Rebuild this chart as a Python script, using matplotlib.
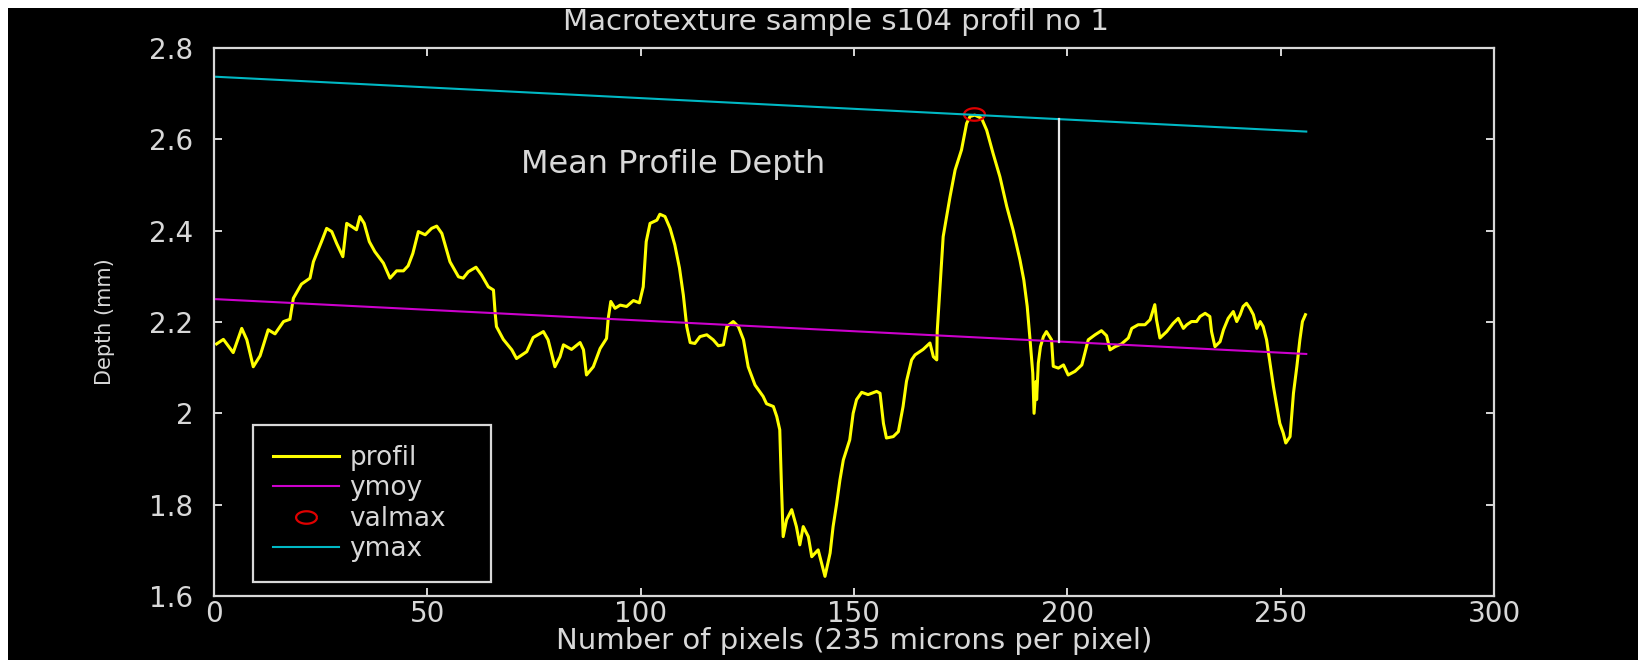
import matplotlib
matplotlib.use("Agg")
import matplotlib.pyplot as plt
import numpy as np
from matplotlib.path import Path
from matplotlib.patches import Rectangle

# profile (pixel index, depth in mm)
prof_x = [0.6, 2.2, 4.5, 6.5, 7.7, 9.2, 10.8, 12.7, 14.3, 16.3, 17.8, 18.6, 20.5, 22.5, 23.3,
          25.2, 26.4, 27.6, 28.75, 30.2, 31.1, 32.3, 33.4, 34.2, 35.2, 36.4, 37.7, 39.7, 41.25,
          42.8, 44.4, 45.5, 46.6, 47.9, 49.5, 51.0, 52.2, 53.4, 55.3, 57.3, 58.4, 59.6, 61.4,
          62.7, 64.3, 65.5, 65.9, 66.2, 67.8, 69.8, 70.9, 73.3, 74.8, 77.2, 78.3, 79.9, 81.1,
          81.9, 83.8, 85.8, 86.6, 87.3, 88.9, 90.5, 92.0, 92.4, 93.0, 94.0, 95.2, 96.7, 98.3,
          99.7, 100.6, 101.3, 102.2, 103.8, 104.5, 105.7, 106.9, 108.0, 109.1, 110.0, 110.8,
          111.6, 112.7, 113.9, 115.5, 117.0, 118.2, 119.4, 120.2, 121.7, 122.9, 124.1, 125.2,
          126.8, 128.7, 129.5, 131.1, 131.9, 132.6, 133.0, 133.4, 134.2, 135.4, 136.5, 137.3,
          138.1, 139.3, 140.1, 141.6, 142.4, 143.2, 144.4, 145.1, 145.9, 146.7, 147.5, 149.0,
          149.8, 150.6, 151.8, 153.3, 155.3, 156.1, 156.9, 157.6, 159.2, 160.4, 161.5, 162.3,
          163.5, 164.3, 166.2, 167.8, 168.6, 169.4, 169.5, 170.1, 170.9, 172.5, 173.7, 175.2,
          176.4, 177.2, 178.3, 179.9, 181.1, 182.6, 184.2, 185.8, 187.3, 188.9, 189.8, 190.6,
          191.2, 191.9, 192.2, 192.7, 192.8, 193.2, 193.7, 194.4, 195.1, 196.3, 196.7, 197.9,
          199.1, 200.2, 201.8, 203.4, 204.1, 204.9, 206.5, 208.0, 209.2, 210.0, 211.2, 212.7,
          214.3, 215.1, 216.6, 218.2, 219.4, 220.0, 220.5, 220.9, 221.7, 223.3, 224.8, 226.0,
          227.2, 228.0, 229.1, 230.3, 231.1, 232.3, 233.4, 233.8, 234.6, 235.8, 236.6, 237.7,
          238.9, 239.7, 240.5, 241.2, 242.0, 242.8, 243.6, 244.4, 245.2, 245.9, 246.7, 247.5,
          248.3, 249.1, 249.8, 250.6, 251.2, 252.2, 253.0, 253.8, 254.5, 255.1, 255.8]
prof_y = [2.152, 2.162, 2.133, 2.186, 2.161, 2.102, 2.126, 2.183, 2.174, 2.201, 2.206, 2.252,
          2.283, 2.296, 2.332, 2.376, 2.405, 2.398, 2.372, 2.343, 2.416, 2.409, 2.402, 2.431,
          2.416, 2.376, 2.354, 2.329, 2.296, 2.312, 2.312, 2.323, 2.35, 2.398, 2.391, 2.405,
          2.41, 2.394, 2.332, 2.299, 2.296, 2.31, 2.32, 2.303, 2.277, 2.27, 2.219, 2.19, 2.162,
          2.139, 2.12, 2.135, 2.166, 2.179, 2.161, 2.102, 2.124, 2.15, 2.14, 2.155, 2.139,
          2.084, 2.102, 2.142, 2.164, 2.208, 2.245, 2.23, 2.237, 2.234, 2.247, 2.242, 2.277,
          2.376, 2.416, 2.423, 2.436, 2.431, 2.405, 2.369, 2.318, 2.259, 2.19, 2.155, 2.153,
          2.168, 2.172, 2.161, 2.148, 2.15, 2.19, 2.201, 2.19, 2.161, 2.102, 2.062, 2.037,
          2.021, 2.015, 1.993, 1.964, 1.84, 1.73, 1.767, 1.789, 1.752, 1.712, 1.752, 1.73,
          1.686, 1.701, 1.672, 1.643, 1.694, 1.752, 1.80, 1.854, 1.898, 1.942, 2.0, 2.03,
          2.046, 2.041, 2.048, 2.044, 1.978, 1.946, 1.949, 1.96, 2.015, 2.07, 2.117, 2.128,
          2.14, 2.154, 2.124, 2.117, 2.179, 2.267, 2.387, 2.474, 2.533, 2.577, 2.635, 2.65,
          2.653, 2.646, 2.62, 2.569, 2.518, 2.453, 2.401, 2.336, 2.292, 2.234, 2.168, 2.088,
          2.0, 2.07, 2.03, 2.11, 2.146, 2.168, 2.179, 2.161, 2.103, 2.099, 2.106, 2.084, 2.092,
          2.106, 2.132, 2.161, 2.172, 2.181, 2.17, 2.139, 2.146, 2.152, 2.165, 2.186, 2.194,
          2.194, 2.205, 2.223, 2.238, 2.205, 2.165, 2.179, 2.197, 2.208, 2.186, 2.194, 2.201,
          2.201, 2.212, 2.219, 2.212, 2.179, 2.146, 2.157, 2.183, 2.208, 2.223, 2.201, 2.216,
          2.234, 2.241, 2.23, 2.216, 2.186, 2.201, 2.19, 2.161, 2.11, 2.059, 2.015, 1.978,
          1.957, 1.935, 1.949, 2.044, 2.103, 2.161, 2.201, 2.216]

ymoy_x = [0.5, 256]
ymoy_y = [2.25, 2.13]
ymax_x = [0.5, 256]
ymax_y = [2.737, 2.617]
valmax_x = [178.2]
valmax_y = [2.655]
mpd_x = [198, 198]
mpd_y = [2.157, 2.644]

xticks = [0, 50, 100, 150, 200, 250, 300]
yticks = [1.6, 1.8, 2.0, 2.2, 2.4, 2.6, 2.8]
ytick_labels = ['1.6', '1.8', '2', '2.2', '2.4', '2.6', '2.8']

fg = '#d8d8d8'
plt.rcParams['font.family'] = ['DejaVu Sans']

fig = plt.figure(figsize=(16.38, 6.63), dpi=100)
fig.patch.set_facecolor('white')
# black screen area of the original window grab, kept behind the axes
fig.patches.append(Rectangle((8 / 1638, 3 / 663), 1630 / 1638, 652 / 663,
                             transform=fig.transFigure, facecolor='black',
                             edgecolor='none', zorder=-10))

ax = fig.add_axes([214 / 1638, 67 / 663, 1280 / 1638, 548 / 663])
ax.set_facecolor('black')

# flattened ellipse marker like the stretched matlab circle
t = np.linspace(0, 2 * np.pi, 41)
ell = Path(np.column_stack([np.cos(t), 0.6 * np.sin(t)]))

ax.plot(prof_x, prof_y, color='#ffff00', lw=2.2, label='profil')
ax.plot(ymoy_x, ymoy_y, color='#cc00cc', lw=1.5, label='ymoy')
ax.plot(valmax_x, valmax_y, ls='none', marker=ell, ms=15, mfc='none',
        mec='#e00000', mew=1.6, label='valmax')
ax.plot(ymax_x, ymax_y, color='#00b8c4', lw=1.5, label='ymax')
ax.plot(mpd_x, mpd_y, color='#e8e8e8', lw=1.6)

ax.text(72, 2.544, 'Mean Profile Depth', color=fg, fontsize=23, ha='left', va='center')

ax.set_xlim(0, 300)
ax.set_ylim(1.6, 2.8)
ax.set_xticks(xticks)
ax.set_yticks(yticks)
ax.set_yticklabels(ytick_labels)
for s in ax.spines.values():
    s.set_color(fg)
    s.set_linewidth(1.6)
ax.tick_params(direction='in', length=6, width=1.4, colors=fg, top=True, right=True)
ax.tick_params(axis='y', pad=15, labelsize=20)
ax.tick_params(axis='x', pad=3, labelsize=20)

ax.set_xlabel('Number of pixels (235 microns per pixel)', color=fg, fontsize=21, labelpad=-1)
ax.set_ylabel('Depth (mm)', color=fg, fontsize=15)
ax.yaxis.set_label_coords(-0.077, 0.5)

fig.text(836 / 1638, 1 - 22 / 663, 'Macrotexture sample s104 profil no 1', color=fg,
         fontsize=21, ha='center', va='center')

leg = ax.legend(loc='lower left', bbox_to_anchor=(0.0305, 0.0255, 0.186, 0.28), mode='expand',
                borderaxespad=0, fontsize=19, frameon=True, fancybox=False, framealpha=1,
                facecolor='black', edgecolor=fg, handlelength=2.5, handletextpad=0.4,
                labelspacing=0.17, borderpad=0.75)
leg.get_frame().set_linewidth(1.6)
for txt in leg.get_texts():
    txt.set_color(fg)

fig.savefig('out.png', dpi=100, facecolor=fig.get_facecolor())
